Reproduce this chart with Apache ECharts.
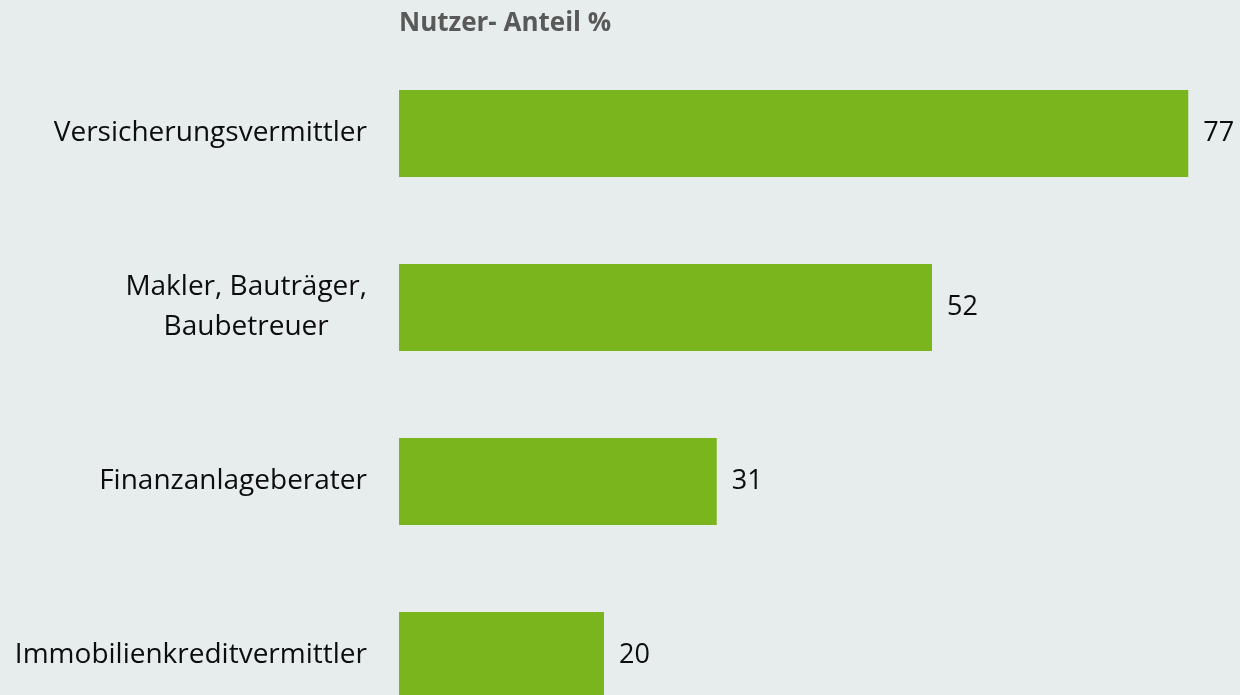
<!DOCTYPE html>
<html>
<head>
<meta charset="utf-8">
<title>Nutzer- Anteil %</title>
<script src="https://cdn.jsdelivr.net/npm/echarts@6/dist/echarts.min.js"></script>
<style>
    html, body { margin: 0; padding: 0; background: #e7eded; }
    #content { width: 1240px; height: 695px; }
</style>
</head>
<body>
<div id="content"></div>
<script>
// Kategorien (von oben nach unten) und Werte
var categories = ["Versicherungsvermittler", "Makler, Bauträger,\nBaubetreuer", "Finanzanlageberater", "Immobilienkreditvermittler"];
var values = [77, 52, 31, 20];

var fontName = "'Open Sans', sans-serif";
var myChart = echarts.init(document.getElementById("content"));

myChart.setOption({
    backgroundColor: "#e7eded",
    title: {
        text: "Nutzer- Anteil %",
        left: 394,
        top: 6,
        textStyle: { color: "#595959", fontSize: 26, fontWeight: "bold", fontFamily: fontName },
    },
    // unterster Balken ragt über den unteren Rand hinaus
    grid: { left: 399, width: 820, top: 46.5, height: 696, containLabel: false, outerBoundsMode: "none" },
    xAxis: {
        type: "value",
        min: 0,
        max: 80,
        show: false,
    },
    yAxis: {
        type: "category",
        inverse: true,
        data: categories,
        axisLine: { show: false },
        axisTick: { show: false },
        axisLabel: {
            margin: 32,
            color: "#0d0d0d",
            fontSize: 28,
            fontFamily: fontName,
            lineHeight: 40,
            // mehrzeilige Beschriftung zentriert
            formatter: function(v) {
                return v.split("\n").map(function(s) { return "{c|" + s + "}"; }).join("\n");
            },
            rich: {
                c: { align: "center", fontSize: 28, fontFamily: fontName, color: "#0d0d0d", lineHeight: 40 },
            },
        },
    },
    series: [{
        type: "bar",
        data: values,
        barCategoryGap: "50%",
        itemStyle: { color: "#7ab51d" },
        label: {
            show: true,
            position: "right",
            distance: 15,
            color: "#0d0d0d",
            fontSize: 27,
            fontFamily: fontName,
        },
        silent: true,
    }],
    animation: false,
});
</script>
</body>
</html>
